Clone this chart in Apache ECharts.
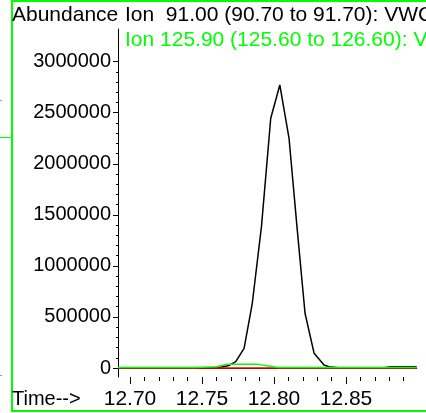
<!DOCTYPE html>
<html><head><meta charset="utf-8">
<script src="https://cdn.jsdelivr.net/npm/echarts@6/dist/echarts.min.js"></script>
<style>html,body{margin:0;padding:0;background:#fff}#c{width:426px;height:413px}</style>
</head><body><div id="c"></div>
<script>
// ---- data ----
const ion91Time  = [12.6917, 12.762, 12.7688, 12.7734, 12.7792, 12.7849, 12.7913, 12.7977, 12.8040, 12.8104, 12.8160, 12.8215, 12.8278, 12.8347, 12.8382, 12.845, 12.876, 12.881, 12.899];
const ion91Abund = [3000, 4000, 25000, 62000, 193000, 634000, 1390000, 2446000, 2772000, 2250000, 1370000, 536000, 144000, 29000, 13000, 3000, 3000, 13000, 13000];
const ion126Time  = [12.6917, 12.745, 12.760, 12.768, 12.788, 12.796, 12.803, 12.899];
const ion126Abund = [4000, 4000, 12000, 36000, 38000, 20000, 4000, 4000];
const ionRedTime  = [12.6917, 12.899];
const ionRedAbund = [0, 0];
const xTickLabels = ['12.70', '12.75', '12.80', '12.85'];
const xMinorEnd = 12.89;
const yTickLabels = ['0', '500000', '1000000', '1500000', '2000000', '2500000', '3000000'];
const xRange = [12.6917, 12.899];
const yRange = [-88000, 3320000];
const peakIndex = 8;

const FONT = 'Liberation Sans, Arial, sans-serif';
const zip = (t, v) => t.map((x, i) => [x, v[i]]);

const blackData = zip(ion91Time, ion91Abund).map((p, i) => i === peakIndex ? {
  value: p,
  label: { show: true, position: 'top', distance: 4, formatter: d => d.value[0].toFixed(2), fontSize: 20, fontFamily: FONT, color: '#000' }
} : p);

const chart = echarts.init(document.getElementById('c'), null, { renderer: 'canvas' });
const xMaj = xTickLabels.map(Number);
const yMaj = yTickLabels.map(Number);

chart.setOption({
  animation: false,
  backgroundColor: '#fff',
  grid: [
    { left: 118, top: 29, right: 9.3, bottom: 36 },                       // data
    { left: 130, top: 29, width: (xMaj[xMaj.length-1]-xMaj[0])*1440, bottom: 36 }, // x major
    { left: 130, top: 29, width: (xMinorEnd-xMaj[0])*1440, bottom: 36 },   // x minor
    { left: 118, top: 61.7, width: 100, bottom: 45 }                       // y ticks
  ],
  xAxis: [
    { gridIndex: 0, type: 'value', min: xRange[0], max: xRange[1],
      axisLine: { show: true, lineStyle: { color: '#000', width: 1 } }, axisTick: { show: false }, axisLabel: { show: false }, splitLine: { show: false } },
    { gridIndex: 1, type: 'value', min: xMaj[0], max: xMaj[xMaj.length-1], interval: 0.05,
      axisLine: { show: false }, axisTick: { show: true, length: 7, lineStyle: { color: '#000' } },
      axisLabel: { show: true, margin: 12, fontSize: 21, fontFamily: FONT, color: '#000', formatter: v => v.toFixed(2) }, splitLine: { show: false } },
    { gridIndex: 2, type: 'value', min: xMaj[0], max: xMinorEnd, interval: 0.01,
      axisLine: { show: false }, axisTick: { show: true, length: 4, lineStyle: { color: '#000' } },
      axisLabel: { show: false }, splitLine: { show: false } },
    { gridIndex: 3, type: 'value', show: false, min: 0, max: 1 }
  ],
  yAxis: [
    { gridIndex: 0, type: 'value', min: yRange[0], max: yRange[1],
      axisLine: { show: true, lineStyle: { color: '#000', width: 1 } }, axisTick: { show: false }, axisLabel: { show: false }, splitLine: { show: false } },
    { gridIndex: 1, type: 'value', show: false, min: 0, max: 1 },
    { gridIndex: 2, type: 'value', show: false, min: 0, max: 1 },
    { gridIndex: 3, type: 'value', min: yMaj[0], max: yMaj[yMaj.length-1], interval: 500000,
      axisLine: { show: false }, axisTick: { show: true, length: 5, lineStyle: { color: '#000' } },
      minorTick: { show: true, splitNumber: 5, length: 2, lineStyle: { color: '#000' } },
      axisLabel: { show: true, margin: 7, fontSize: 20, fontFamily: FONT, color: '#000', formatter: v => String(v) }, splitLine: { show: false } }
  ],
  series: [
    { type: 'line', xAxisIndex: 0, yAxisIndex: 0, data: blackData, showSymbol: false, symbol: 'none',
      lineStyle: { color: '#000', width: 1.5 }, z: 2 },
    { type: 'line', xAxisIndex: 0, yAxisIndex: 0, data: zip(ionRedTime, ionRedAbund), symbol: 'none',
      lineStyle: { color: '#ff0000', width: 1.5 }, z: 3 },
    { type: 'line', xAxisIndex: 0, yAxisIndex: 0, data: zip(ion126Time, ion126Abund), symbol: 'none',
      lineStyle: { color: '#00ff00', width: 1.5 }, z: 4 }
  ],
  graphic: [
    { type: 'rect', shape: { x: 12, y: 1, width: 500, height: 410 }, style: { fill: null, stroke: '#00ff00', lineWidth: 2 }, z: 10 },
    { type: 'rect', shape: { x: 0, y: 137, width: 11, height: 1 }, style: { fill: '#00ff00' }, z: 10 },
    { type: 'rect', shape: { x: 0, y: 100, width: 2, height: 1 }, style: { fill: '#999' }, z: 10 },
    { type: 'rect', shape: { x: 0, y: 375, width: 2, height: 1 }, style: { fill: '#999' }, z: 10 },
    { type: 'text', x: 12, y: 15, style: { text: 'Abundance', fontSize: 21, fontFamily: FONT, fill: '#000', textVerticalAlign: 'middle' }, z: 10 },
    { type: 'text', x: 125, y: 15, style: { text: 'Ion  91.00 (90.70 to 91.70): VWC', fontSize: 21, fontFamily: FONT, fill: '#000', textVerticalAlign: 'middle' }, z: 10 },
    { type: 'text', x: 125, y: 40, style: { text: 'Ion 125.90 (125.60 to 126.60): V', fontSize: 21, fontFamily: FONT, fill: '#00ff00', textVerticalAlign: 'middle' }, z: 10 },
    { type: 'text', x: 12, y: 399, style: { text: 'Time-->', fontSize: 20, fontFamily: FONT, fill: '#000', textVerticalAlign: 'middle' }, z: 10 }
  ]
});
</script></body></html>
